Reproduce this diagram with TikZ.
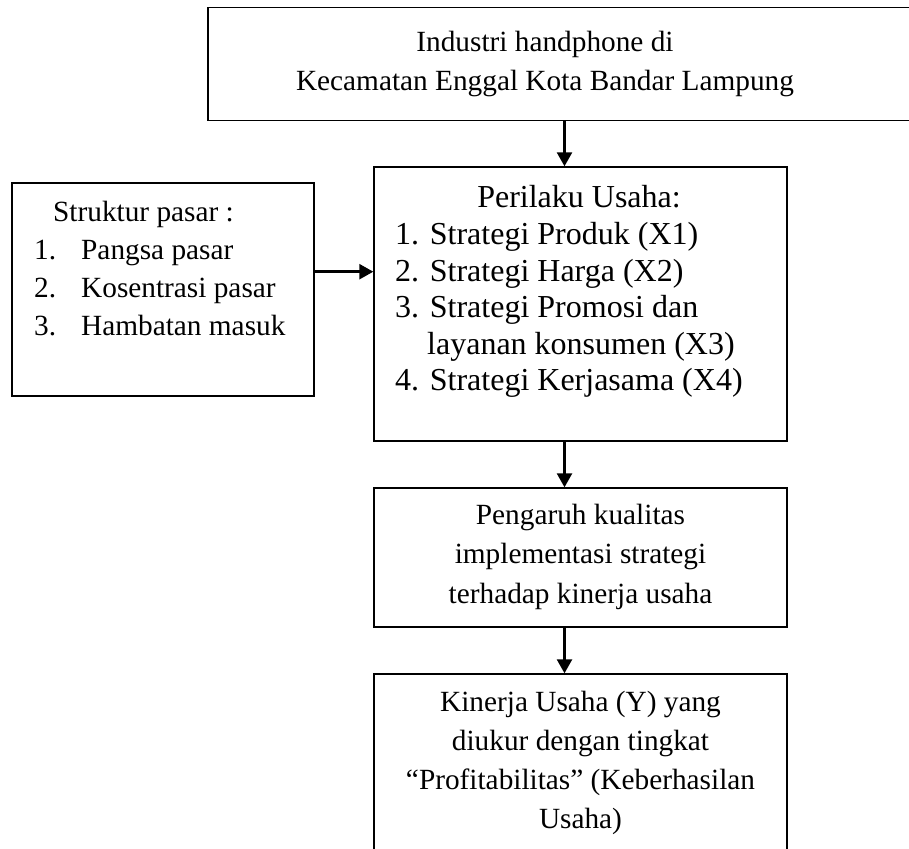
\documentclass[tikz,border=0pt]{standalone}
\usepackage{fontspec}
\setmainfont{Liberation Serif}
\usetikzlibrary{arrows.meta}
\begin{document}
\begin{tikzpicture}[x=1pt,y=-1pt,
  box/.style={draw, line width=1.4pt, inner sep=0pt, rectangle},
  arr/.style={line width=2.5pt, -{Triangle[length=14pt,width=15pt]}},
  big/.style={font=\fontsize{32}{36}\selectfont},
  reg/.style={font=\fontsize{29.3}{39}\selectfont},
  lc/.style={inner sep=0pt, anchor=base},
  ll/.style={inner sep=0pt, anchor=base west}]
\useasboundingbox (0,0) rectangle (909,848);
% boxes
\node[box, minimum width=800pt, minimum height=113pt] (top) at (608,64) {};
\node[box, minimum width=302pt, minimum height=213pt] (L) at (163,289.5) {};
\node[box, minimum width=413pt, minimum height=274pt] (b2) at (580.5,304) {};
\node[box, minimum width=413pt, minimum height=139pt] (b3) at (580.5,557.5) {};
\node[box, minimum width=413pt, minimum height=226pt] (b4) at (580.5,787) {};
% connectors
\coordinate (ax) at (564.5,0);
\coordinate (ay) at (0,271.7);
\draw[arr] (top.south -| ax) -- (b2.north -| ax);
\draw[arr] (b2.south -| ax) -- (b3.north -| ax);
\draw[arr] (b3.south -| ax) -- (b4.north -| ax);
\draw[arr] (L.east |- ay) -- (b2.west |- ay);
% top text
\node[lc, reg] (t1) at (545,52) {Industri handphone di};
\node[lc, reg] (t2) at (545,91) {Kecamatan Enggal Kota Bandar Lampung};
% left box text
\node[ll, reg] (l0) at (53,221) {Struktur pasar :};
\node[ll, reg] (l1n) at (34,259) {1.};
\node[ll, reg] (l1) at (81,259) {Pangsa pasar};
\node[ll, reg] (l2n) at (34,297) {2.};
\node[ll, reg] (l2) at (81,297) {Kosentrasi pasar};
\node[ll, reg] (l3n) at (34,335) {3.};
\node[ll, reg] (l3) at (81,335) {Hambatan masuk};
% middle box text
\node[lc, big] (m0) at (579,207) {Perilaku Usaha:};
\node[ll, big] (m1) at (395,244) {1. Strategi Produk (X1)};
\node[ll, big] (m2) at (395,281) {2. Strategi Harga (X2)};
\node[ll, big] (m3) at (395,317) {3. Strategi Promosi dan};
\node[ll, big] (m3b) at (427,354) {layanan konsumen (X3)};
\node[ll, big] (m4) at (395,390) {4. Strategi Kerjasama (X4)};
% box 3 text
\node[lc, reg] (p1) at (580.5,524) {Pengaruh kualitas};
\node[lc, reg] (p2) at (580.5,563) {implementasi strategi};
\node[lc, reg] (p3) at (580.5,603) {terhadap kinerja usaha};
% box 4 text
\node[lc, reg] (k1) at (580.5,711) {Kinerja Usaha (Y) yang};
\node[lc, reg] (k2) at (580.5,750) {diukur dengan tingkat};
\node[lc, reg] (k3) at (580.5,789) {“Profitabilitas” (Keberhasilan};
\node[lc, reg] (k4) at (580.5,828) {Usaha)};
\end{tikzpicture}
\end{document}
